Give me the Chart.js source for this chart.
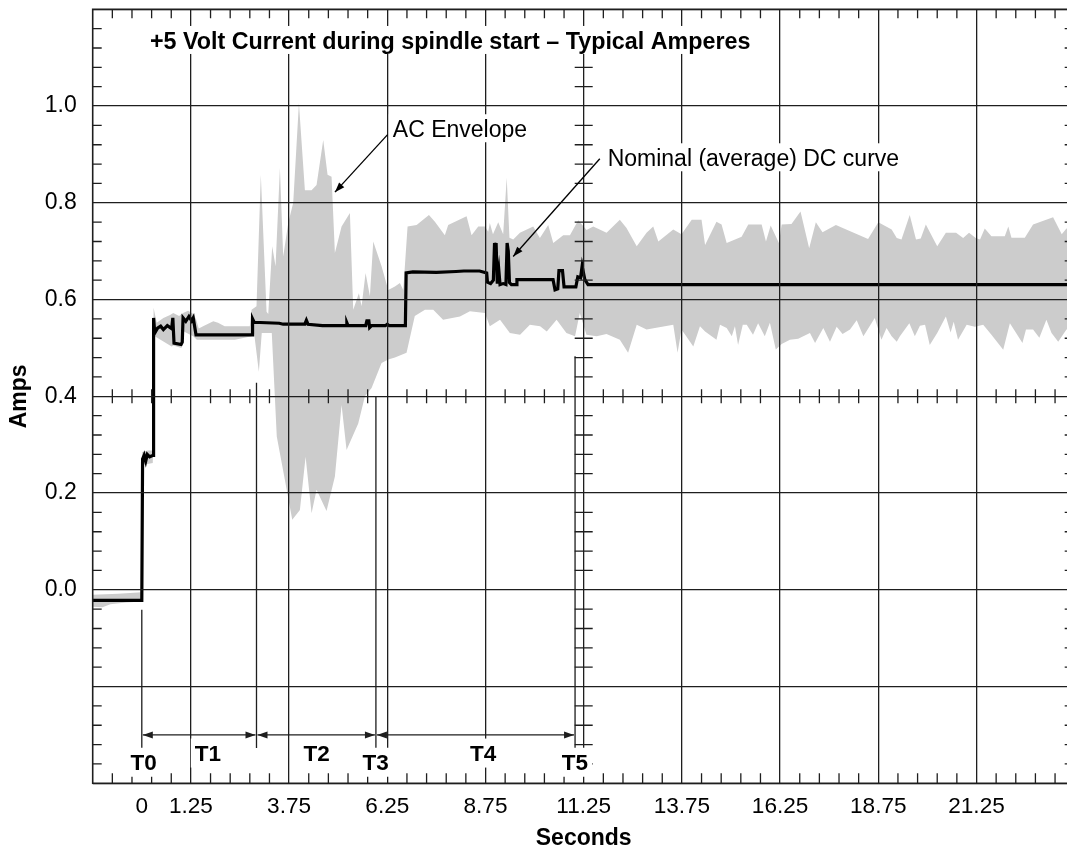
<!DOCTYPE html>
<html>
<head>
<meta charset="utf-8">
<title>+5 Volt Current during spindle start</title>
<script src="https://cdn.jsdelivr.net/npm/chart.js@4.4.1/dist/chart.umd.min.js"></script>
<style>
    html, body { margin: 0; padding: 0; background: #fff; overflow: hidden; }
    #wrap { position: relative; width: 1080px; height: 852px; }
</style>
</head>
<body>
<div id="wrap"><canvas id="spindle-chart"></canvas></div>
<script>
(function() {
    'use strict';

    // Axis ranges and tick values
    const xRange = [-1.25, 23.75];
    const yRange = [-0.4, 1.2];
    const xTickValues = [0, 1.25, 3.75, 6.25, 8.75, 11.25, 13.75, 16.25, 18.75, 21.25];
    const yTickValues = [-0.4, -0.2, 0, 0.2, 0.4, 0.6, 0.8, 1.0, 1.2];

    // Nominal (average) DC curve
    const dcTime = [
        -1.25, 0.00, 0.02, 0.06, 0.10, 0.14, 0.20, 0.29, 0.30, 0.33,
        0.40, 0.48, 0.55, 0.65, 0.76, 0.79, 0.82, 1.00, 1.03, 1.05,
        1.12, 1.20, 1.27, 1.31, 1.38, 2.81, 2.82, 2.86, 3.50, 3.60,
        4.15, 4.19, 4.23, 4.60, 5.20, 5.22, 5.25, 5.70, 5.73, 5.78,
        5.80, 5.85, 6.20, 6.25, 6.30, 6.71, 6.73, 6.90, 7.50, 8.00,
        8.20, 8.60, 8.78, 8.80, 8.88, 8.95, 8.98, 9.00, 9.02, 9.05,
        9.09, 9.12, 9.20, 9.27, 9.30, 9.33, 9.36, 9.41, 9.54, 9.55,
        10.47, 10.52, 10.59, 10.62, 10.71, 10.75, 11.05, 11.10, 11.17, 11.21,
        11.28, 11.36, 23.75
    ];
    const dcAmps = [
        -0.022, -0.022, 0.270, 0.278, 0.266, 0.280, 0.275, 0.278, 0.562, 0.531,
        0.541, 0.545, 0.538, 0.546, 0.540, 0.562, 0.510, 0.507, 0.512, 0.562,
        0.555, 0.565, 0.556, 0.562, 0.527, 0.527, 0.560, 0.553, 0.551, 0.549,
        0.549, 0.557, 0.549, 0.546, 0.546, 0.552, 0.546, 0.546, 0.556, 0.556,
        0.542, 0.546, 0.546, 0.549, 0.546, 0.546, 0.655, 0.657, 0.656, 0.658,
        0.659, 0.659, 0.655, 0.636, 0.633, 0.640, 0.717, 0.700, 0.717, 0.633,
        0.660, 0.631, 0.633, 0.631, 0.717, 0.700, 0.635, 0.631, 0.631, 0.641,
        0.641, 0.620, 0.622, 0.660, 0.660, 0.626, 0.626, 0.647, 0.645, 0.669,
        0.641, 0.631, 0.631
    ];

    // AC envelope, upper edge
    const envHiTime = [
        -1.25, -0.60, 0.00, 0.01, 0.15, 0.28, 0.30, 0.38, 0.55, 0.72,
        0.80, 0.95, 1.05, 1.18, 1.31, 1.38, 1.45, 1.56, 1.82, 1.94,
        2.11, 2.37, 2.75, 2.795, 2.92, 3.03, 3.176, 3.219, 3.32, 3.405,
        3.516, 3.60, 3.728, 3.855, 4.00, 4.152, 4.322, 4.449, 4.619, 4.729,
        4.831, 4.916, 5.086, 5.298, 5.383, 5.527, 5.595, 5.697, 5.807, 5.892,
        6.104, 6.274, 6.444, 6.571, 6.656, 6.766, 6.996, 7.31, 7.462, 7.715,
        7.80, 8.268, 8.395, 8.565, 8.734, 8.819, 8.86, 8.94, 9.074, 9.20,
        9.29, 9.36, 9.456, 9.626, 9.965, 10.135, 10.347, 10.475, 10.729, 10.899,
        11.111, 11.323, 11.493, 11.832, 12.17, 12.34, 12.60, 12.85, 13.02, 13.15,
        13.53, 13.74, 14.00, 14.25, 14.34, 14.63, 14.76, 14.89, 15.27, 15.44,
        15.78, 15.89, 16.01, 16.22, 16.29, 16.54, 16.77, 16.99, 17.16, 17.33,
        17.67, 18.49, 18.75, 19.09, 19.22, 19.34, 19.55, 19.71, 19.83, 19.96,
        20.25, 20.47, 20.73, 20.91, 21.06, 21.23, 21.34, 21.46, 21.63, 21.97,
        22.06, 22.14, 22.48, 22.69, 23.20, 23.42, 23.54, 23.75
    ];
    const envHiAmps = [
        -0.010, -0.008, -0.005, 0.285, 0.288, 0.288, 0.583, 0.552, 0.562, 0.568,
        0.572, 0.566, 0.572, 0.577, 0.570, 0.560, 0.540, 0.545, 0.555, 0.552,
        0.545, 0.545, 0.545, 0.579, 0.586, 0.858, 0.575, 0.570, 0.710, 0.669,
        0.872, 0.689, 0.758, 0.800, 1.006, 0.826, 0.826, 0.837, 0.930, 0.858,
        0.854, 0.696, 0.751, 0.779, 0.579, 0.613, 0.586, 0.655, 0.607, 0.720,
        0.669, 0.620, 0.627, 0.634, 0.620, 0.751, 0.754, 0.775, 0.761, 0.733,
        0.754, 0.772, 0.733, 0.751, 0.751, 0.740, 0.758, 0.735, 0.760, 0.735,
        0.852, 0.728, 0.724, 0.738, 0.751, 0.727, 0.754, 0.717, 0.733, 0.733,
        0.764, 0.744, 0.751, 0.738, 0.765, 0.748, 0.710, 0.738, 0.751, 0.720,
        0.745, 0.735, 0.765, 0.765, 0.713, 0.761, 0.755, 0.717, 0.730, 0.755,
        0.755, 0.720, 0.753, 0.717, 0.755, 0.756, 0.782, 0.706, 0.760, 0.739,
        0.754, 0.725, 0.760, 0.745, 0.727, 0.724, 0.775, 0.724, 0.726, 0.755,
        0.710, 0.738, 0.738, 0.727, 0.738, 0.727, 0.724, 0.747, 0.731, 0.731,
        0.751, 0.728, 0.728, 0.755, 0.770, 0.735, 0.747, 0.745
    ];

    // AC envelope, lower edge
    const envLoTime = [
        -1.25, -1.00, -0.80, -0.40, 0.00, 0.01, 0.28, 0.30, 0.33, 0.76,
        0.80, 1.01, 1.07, 1.31, 1.40, 2.37, 2.795, 2.86, 2.98, 3.054,
        3.309, 3.436, 3.643, 3.83, 4.025, 4.17, 4.322, 4.449, 4.703, 4.916,
        5.086, 5.213, 5.51, 5.68, 5.85, 6.104, 6.274, 6.444, 6.74, 6.95,
        7.209, 7.42, 7.67, 8.10, 8.353, 8.734, 8.86, 9.12, 9.37, 9.63,
        9.88, 10.14, 10.31, 10.56, 10.81, 11.03, 11.15, 11.32, 11.58, 11.83,
        12.17, 12.38, 12.60, 12.85, 13.53, 13.64, 13.74, 14.04, 14.21, 14.34,
        14.63, 14.72, 14.89, 15.02, 15.10, 15.18, 15.30, 15.40, 15.56, 15.69,
        15.86, 15.99, 16.14, 16.29, 16.50, 16.71, 17.01, 17.14, 17.35, 17.52,
        17.69, 17.84, 18.03, 18.20, 18.37, 18.66, 18.83, 18.96, 19.09, 19.22,
        19.30, 19.54, 19.68, 19.81, 19.94, 20.06, 20.25, 20.47, 20.59, 20.67,
        20.78, 21.00, 21.21, 21.42, 21.63, 21.93, 22.10, 22.42, 22.51, 22.69,
        22.85, 23.03, 23.16, 23.33, 23.54, 23.75
    ];
    const envLoAmps = [
        -0.035, -0.036, -0.030, -0.026, -0.024, 0.258, 0.262, 0.524, 0.524, 0.503,
        0.505, 0.500, 0.534, 0.524, 0.517, 0.517, 0.524, 0.530, 0.451, 0.531,
        0.531, 0.317, 0.227, 0.145, 0.165, 0.275, 0.158, 0.207, 0.163, 0.234,
        0.382, 0.289, 0.344, 0.400, 0.417, 0.469, 0.476, 0.480, 0.490, 0.566,
        0.579, 0.579, 0.558, 0.565, 0.576, 0.572, 0.545, 0.558, 0.531, 0.527,
        0.548, 0.545, 0.534, 0.558, 0.531, 0.524, 0.572, 0.527, 0.524, 0.529,
        0.517, 0.490, 0.548, 0.538, 0.548, 0.490, 0.538, 0.503, 0.545, 0.534,
        0.517, 0.548, 0.541, 0.524, 0.545, 0.506, 0.548, 0.548, 0.527, 0.551,
        0.524, 0.552, 0.497, 0.508, 0.517, 0.519, 0.531, 0.510, 0.541, 0.513,
        0.544, 0.529, 0.538, 0.557, 0.524, 0.562, 0.517, 0.541, 0.524, 0.513,
        0.524, 0.551, 0.524, 0.546, 0.548, 0.506, 0.531, 0.565, 0.532, 0.554,
        0.517, 0.548, 0.544, 0.548, 0.527, 0.496, 0.551, 0.510, 0.538, 0.538,
        0.521, 0.558, 0.531, 0.513, 0.538, 0.540
    ];

    // Start-up phases
    const phaseNames = ['T0', 'T1', 'T2', 'T3', 'T4', 'T5'];
    const phaseEdges = [0, 2.92, 5.96, 11.03];

    const FONT = "'Liberation Sans', Arial, Helvetica, sans-serif";
    const INK = '#1e1e1e';

    const toPoints = (xs, ys) => xs.map((v, i) => ({ x: v, y: ys[i] }));

    /**
     * Annotation layout, in data units (seconds, amps)
     */
    const phaseMarkers = [
        { t: phaseEdges[0], top: -0.041 },
        { t: phaseEdges[1], top: 0.428 },
        { t: phaseEdges[2], top: 0.400 },
        { t: phaseEdges[3], top: 0.483 }
    ];
    const markerBottom = -0.327;
    const spanLevel = -0.300;
    const phaseLabels = [
        { t: 0.046, a: -0.372 },
        { t: 1.683, a: -0.353 },
        { t: 4.45, a: -0.353 },
        { t: 5.955, a: -0.372 },
        { t: 8.69, a: -0.353 },
        { t: 11.025, a: -0.372 }
    ];
    const notes = [
        { text: '+5 Volt Current during spindle start \u2013 Typical Amperes', t: 0.208, a: 1.118, bold: true },
        { text: 'AC Envelope', t: 6.39, a: 0.9355 },
        { text: 'Nominal (average) DC curve', t: 11.86, a: 0.8755 }
    ];
    const pointers = [
        { from: [6.257, 0.941], to: [4.917, 0.822] },
        { from: [11.66, 0.891], to: [9.455, 0.689] }
    ];

    function arrowHead(ctx, x1, y1, x2, y2) {
        const ang = Math.atan2(y2 - y1, x2 - x1);
        const len = 10, half = 3.5;
        const bx = x2 - len * Math.cos(ang), by = y2 - len * Math.sin(ang);
        ctx.beginPath();
        ctx.moveTo(x2, y2);
        ctx.lineTo(bx + half * Math.sin(ang), by - half * Math.cos(ang));
        ctx.lineTo(bx - half * Math.sin(ang), by + half * Math.cos(ang));
        ctx.closePath();
        ctx.fill();
    }

    function boxedText(ctx, text, x, yBase, font, align, up, down) {
        ctx.font = font;
        const w = ctx.measureText(text).width;
        const left = align === 'center' ? x - w / 2 : x;
        ctx.fillStyle = '#fff';
        ctx.fillRect(left - 4, yBase - up, w + 8, up + down);
        ctx.fillStyle = '#000';
        ctx.textAlign = 'left';
        ctx.textBaseline = 'alphabetic';
        ctx.fillText(text, left, yBase);
    }

    const overlayPlugin = {
        id: 'overlay',
        afterDraw: function(chart) {
            const ctx = chart.ctx;
            const area = chart.chartArea;
            const X = v => chart.scales.x.getPixelForValue(v);
            const Y = v => chart.scales.y.getPixelForValue(v);

            ctx.save();
            ctx.strokeStyle = INK;
            ctx.fillStyle = INK;
            ctx.lineWidth = 1.3;

            // Minor ticks on the frame and on the centre cross
            ctx.beginPath();
            const cy = Y(0.4), cx = X(11.25);
            for (let k = 0; k < 50; k++) {
                if (k % 5 === 4) continue;
                const v = -0.75 + 0.5 * k;
                if (v >= xRange[1]) break;
                const p = X(v);
                ctx.moveTo(p, area.top); ctx.lineTo(p, area.top + 9);
                ctx.moveTo(p, area.bottom); ctx.lineTo(p, area.bottom - 10);
                ctx.moveTo(p, cy - 7); ctx.lineTo(p, cy + 7);
            }
            for (let k = 1; k < 40; k++) {
                if (k % 5 === 0) continue;
                const p = Y(yRange[0] + 0.04 * k);
                ctx.moveTo(area.left, p); ctx.lineTo(area.left + 9, p);
                ctx.moveTo(area.right, p); ctx.lineTo(area.right - 10, p);
                ctx.moveTo(cx - 9, p); ctx.lineTo(cx + 9, p);
            }
            ctx.stroke();

            // Frame
            ctx.lineWidth = 1.6;
            ctx.strokeRect(area.left, area.top, area.right - area.left, area.bottom - area.top);

            // Phase markers and spans
            ctx.lineWidth = 1.3;
            ctx.beginPath();
            phaseMarkers.forEach(m => {
                ctx.moveTo(X(m.t), Y(m.top));
                ctx.lineTo(X(m.t), Y(markerBottom));
            });
            ctx.stroke();

            const sy = Y(spanLevel);
            for (let i = 0; i < phaseEdges.length - 1; i++) {
                const x1 = X(phaseEdges[i]) + 1, x2 = X(phaseEdges[i + 1]) - 1;
                ctx.beginPath();
                ctx.moveTo(x1, sy); ctx.lineTo(x2, sy);
                ctx.stroke();
                arrowHead(ctx, x2, sy, x1, sy);
                arrowHead(ctx, x1, sy, x2, sy);
            }

            // Texts on white boxes
            notes.forEach(n => {
                boxedText(ctx, n.text, X(n.t), Y(n.a),
                    (n.bold ? 'bold 23.3px ' : '23px ') + FONT, 'left', 23, 5);
            });
            phaseLabels.forEach((l, i) => {
                boxedText(ctx, phaseNames[i], X(l.t), Y(l.a), 'bold 22.5px ' + FONT, 'center', 22, 7);
            });

            // Pointer arrows
            ctx.fillStyle = '#000';
            ctx.strokeStyle = '#000';
            ctx.lineWidth = 1.3;
            pointers.forEach(p => {
                const x1 = X(p.from[0]), y1 = Y(p.from[1]);
                const x2 = X(p.to[0]), y2 = Y(p.to[1]);
                ctx.beginPath();
                ctx.moveTo(x1, y1); ctx.lineTo(x2, y2);
                ctx.stroke();
                arrowHead(ctx, x1, y1, x2, y2);
            });

            ctx.restore();
        }
    };

    const canvas = document.getElementById('spindle-chart');

    new Chart(canvas, {
        type: 'line',
        data: {
            datasets: [{
                label: 'Nominal (average) DC curve',
                data: toPoints(dcTime, dcAmps),
                borderColor: '#000',
                borderWidth: 3.2,
                fill: false
            }, {
                label: 'AC Envelope',
                data: toPoints(envHiTime, envHiAmps),
                borderColor: 'rgba(0,0,0,0)',
                borderWidth: 1,
                backgroundColor: '#cccccc',
                fill: '+1'
            }, {
                label: 'AC Envelope (low)',
                data: toPoints(envLoTime, envLoAmps),
                borderColor: 'rgba(0,0,0,0)',
                borderWidth: 1,
                fill: false
            }]
        },
        options: {
            responsive: true,
            maintainAspectRatio: false,
            animation: false,
            layout: {
                autoPadding: false,
                padding: { top: 9.3, right: 5.3, bottom: 0, left: 0 }
            },
            elements: {
                point: { radius: 0, hoverRadius: 0 },
                line: { tension: 0 }
            },
            plugins: {
                legend: { display: false },
                tooltip: { enabled: false },
                filler: { drawTime: 'beforeDatasetsDraw' }
            },
            scales: {
                x: {
                    type: 'linear',
                    min: xRange[0],
                    max: xRange[1],
                    afterBuildTicks: function(scale) {
                        scale.ticks = xTickValues.map(v => ({ value: v }));
                    },
                    afterFit: function(scale) {
                        scale.height = 68.7;
                        scale.paddingLeft = 0;
                        scale.paddingRight = 0;
                    },
                    border: { display: false },
                    grid: {
                        z: 1,
                        drawTicks: false,
                        lineWidth: 1.3,
                        color: function(c) {
                            return c.tick && c.tick.value === 0 ? 'rgba(0,0,0,0)' : INK;
                        }
                    },
                    ticks: {
                        autoSkip: false,
                        maxRotation: 0,
                        padding: 10.2,
                        color: '#000',
                        font: { family: FONT, size: 22.6 },
                        callback: function(value) {
                            return String(value);
                        }
                    },
                    title: {
                        display: true,
                        text: 'Seconds',
                        color: '#000',
                        font: { family: FONT, size: 23, weight: 'bold' },
                        padding: { top: 0, bottom: 0 }
                    }
                },
                y: {
                    type: 'linear',
                    min: yRange[0],
                    max: yRange[1],
                    afterBuildTicks: function(scale) {
                        scale.ticks = yTickValues.map(v => ({ value: v }));
                    },
                    afterFit: function(scale) {
                        scale.width = 92.7;
                        scale.paddingTop = 0;
                        scale.paddingBottom = 0;
                    },
                    border: { display: false },
                    grid: {
                        z: 1,
                        drawTicks: false,
                        lineWidth: 1.3,
                        color: INK
                    },
                    ticks: {
                        padding: 16,
                        color: '#000',
                        font: { family: FONT, size: 23 },
                        callback: function(value) {
                            return (value > -0.01 && value < 1.01) ? value.toFixed(1) : '';
                        }
                    },
                    title: {
                        display: true,
                        text: 'Amps',
                        color: '#000',
                        font: { family: FONT, size: 23, weight: 'bold' },
                        padding: { top: 6, bottom: 0 }
                    }
                }
            }
        },
        plugins: [overlayPlugin]
    });
})();
</script>
</body>
</html>
